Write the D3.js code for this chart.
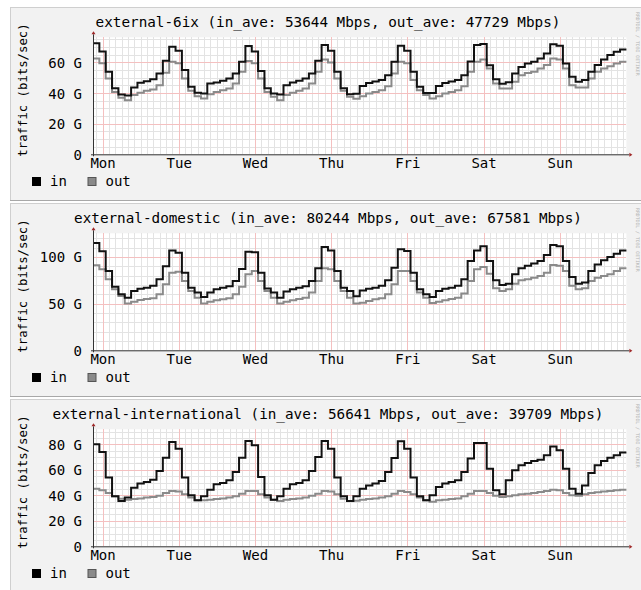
<!DOCTYPE html>
<html><head><meta charset="utf-8">
<script src="https://cdn.jsdelivr.net/npm/d3@7"></script>
<style>html,body{margin:0;padding:0;background:#fff}svg{display:block}</style>
</head><body>
<script>
// ---------- data ----------
const dayLabels = ["Mon","Tue","Wed","Thu","Fri","Sat","Sun"];
const titles = [
  "external-6ix (in_ave: 53644 Mbps, out_ave: 47729 Mbps)",
  "external-domestic (in_ave: 80244 Mbps, out_ave: 67581 Mbps)",
  "external-international (in_ave: 56641 Mbps, out_ave: 39709 Mbps)"
];
const seriesNames = ["in","out"];
const yAxisTitle = "traffic (bits/sec)";
const credit = "RRDTOOL / TOBI OETIKER";

// 2-hour averages (Gbps), 84 steps, starting Sunday 21:00
const sixIn = [72.4,67,53.8,43,39,38.3,43.6,46.6,47.7,49,52.7,61,
  70.2,67.5,55,44,40.1,39.7,46.2,46.8,47.9,49.5,52.7,60.4,
  70.6,67,54.4,43,39.7,39,45,46.8,47.9,49.5,52.7,61,
  71.2,67.5,53.8,43,39.2,39.5,44.5,46.5,47.5,48.5,51.5,60.4,
  70.8,67.5,53.8,44,40,40,44.5,46.5,47.5,48.5,51.5,60.5,
  71.3,72,58,49,46,47,52.7,57,59.2,60.4,62.5,65.8,
  71.7,70.8,59.2,50.5,47.3,48.4,53.8,58.2,61.9,64.7,66.8,68.4];
const sixOut = [62.5,59.3,49.5,40.7,36.8,35.3,38.6,40.1,41.4,42.3,45.1,53.2,
  60.4,59.3,49.5,41.4,37.9,36.4,39.2,40.7,41.8,42.9,46.2,53.8,
  60.8,59.3,49.5,40.7,37.5,35.3,38.6,40.1,41.4,42.9,46.2,53.8,
  61.9,59.9,49.5,41.4,37.5,36.2,37.9,39.7,40.7,41.8,44.4,52.7,
  60.4,59.3,48.4,41.8,38.6,36.4,37.9,39.7,40.7,41.8,44.4,53.8,
  60.4,61.9,56,46.2,42.9,42.9,47.3,51.6,53,53.8,55.9,58.2,
  62.5,61.9,55.9,45,43.5,43.5,49.5,53.8,55.9,57.5,59.2,60.4];
const domIn = [115,106,85,68,60,56.4,63.6,66,67,69,76,90,
  107,104.6,83,67,61.8,57,62,65.3,67,68.5,74.3,87,
  105.6,105,83,66.3,61.8,56.4,63,65.3,67,68.5,74.3,88,
  110.7,107,85,67,63.6,58,64,66,67,69,75,88.5,
  108.2,106.3,83,65.3,60,57,63.6,66,67,69,76,95.7,
  107,111.5,95.7,75,70,71.4,81.5,88,90.5,93,95.7,102,
  112.8,111.5,95.7,78.5,71.4,72.5,85,92,96.4,100,103.5,107];
const domOut = [91,86.7,76,65.3,58.2,50,52,54,55,55.7,60,70.7,
  83,84,74.3,63.6,56.4,50,52,53.5,54.6,55.7,60,68,
  81.5,85,74.3,63.6,56.4,50,52,53.5,55,56.4,61.8,74.3,
  87.8,86.7,74.3,63.6,56.4,50,51,52.9,54.6,55.7,60,70.7,
  85,85,74.3,61.8,56.4,50.7,52,53.5,55,56.4,60.7,74.3,
  86.7,89.2,82,66.5,63.6,65.3,71.4,75,76,77.8,79.6,83,
  91.4,90.5,85,69,65.3,66.5,74.3,77.8,79.6,81.5,85,87.8];
const intlIn = [80,74,53.9,39.2,35.5,38.2,45.9,49.2,50.5,52.3,59.1,69.5,
  81.8,76.6,53.9,40,36.1,39.2,44.4,48.6,49.7,51.8,58.3,69.5,
  82.6,79.2,54.4,40,36.6,39.2,45.2,48.6,49.7,51.8,59.1,70,
  82.6,76.6,53.9,39.2,35.5,39.2,45.2,47.8,49.2,51.3,58.3,69.3,
  82.4,76.6,53.9,39.2,36.1,40,46.5,49.2,50.5,51.8,58.3,68.8,
  81,81,60.9,43.9,40.8,51.8,59.6,63.5,65.4,66.9,68,71.4,
  78.4,75.3,60.9,45.2,41.3,47.8,57.5,63.5,66.9,69.5,71.4,73.5];
const intlOut = [45.2,43.9,41.8,39.2,37.4,36.6,37.1,37.6,38.2,38.7,39.7,41.8,
  43.4,42.9,40.8,38.2,36.1,36.1,36.6,37.1,37.6,38.2,39.2,41.3,
  43.4,43.4,40.8,38.2,36.6,35.5,36.6,37.1,37.6,38.2,39.7,41.3,
  43.4,42.9,40.8,37.4,35.5,35.8,36.6,37.1,37.6,38.2,39.2,41.3,
  43.4,42.6,40.8,38.2,36.1,35,36.1,36.6,37.1,37.6,39.2,41.3,
  43.4,43.4,41.8,39.7,38.7,39.2,40,40.8,41.3,41.8,42.6,43.4,
  44.4,43.9,41.8,40,39.7,40.8,41.8,42.4,42.9,43.4,43.9,44.4];

const yMaxes = [76.3, 125.3, 91.8];
const yTickValues = [[0,20,40,60],[0,50,100],[0,20,40,60,80]];
const yTickLabels = [["0","20 G","40 G","60 G"],["0","50 G","100 G"],["0","20 G","40 G","60 G","80 G"]];
const minorSteps = [5,10,5];
const majorSteps = [20,50,20];
const stepHours = 2;
const spanHours = 168;
const firstMidnight = 3; // Mon 00:00 is 3h after the start

const panels = [
  {title: titles[0], inV: sixIn, outV: sixOut},
  {title: titles[1], inV: domIn, outV: domOut},
  {title: titles[2], inV: intlIn, outV: intlOut}
];

// ---------- drawing ----------
const W = 641, H = 590;
const FONT = "'DejaVu Sans Mono', 'Liberation Mono', monospace";
const svg = d3.select("body").append("svg").attr("width", W).attr("height", H);

const PANEL_DY = 196;
const left = 93, right = 626.4;
const top0 = 37.3, bottom0 = 154.3;

const x = d3.scaleLinear().domain([0, spanHours]).range([left, right]);

panels.forEach((p, k) => {
  const g = svg.append("g").attr("transform", `translate(0,${PANEL_DY * k})`);
  // panel background with shading
  g.append("rect").attr("x", 10).attr("y", 7).attr("width", 640).attr("height", 194).attr("fill", "#f2f2f2");
  g.append("line").attr("x1", 10).attr("x2", 650).attr("y1", 7.5).attr("y2", 7.5).attr("stroke", "#cfcfcf");
  g.append("line").attr("x1", 10.5).attr("x2", 10.5).attr("y1", 7).attr("y2", 201).attr("stroke", "#cfcfcf");
  g.append("line").attr("x1", 10).attr("x2", 650).attr("y1", 200.5).attr("y2", 200.5).attr("stroke", "#a8a8a8");

  const y = d3.scaleLinear().domain([0, yMaxes[k]]).range([bottom0, top0]);

  // canvas
  g.append("rect").attr("x", left).attr("y", top0).attr("width", right - left).attr("height", bottom0 - top0).attr("fill", "#fff");

  const grid = g.append("g").attr("shape-rendering", "crispEdges");
  const minorColor = "#e3e3e3", majorColor = "#f4c0c0";
  // minor horizontal
  const minorY = d3.range(minorSteps[k], yMaxes[k], minorSteps[k]).filter(v => Math.abs(v / majorSteps[k] - Math.round(v / majorSteps[k])) > 1e-6);
  grid.selectAll(".mh").data(minorY).enter().append("line")
    .attr("x1", left).attr("x2", right).attr("y1", d => Math.round(y(d)) + 0.5).attr("y2", d => Math.round(y(d)) + 0.5)
    .attr("stroke", minorColor).attr("stroke-width", 1);
  // minor vertical (every 2h on even clock hours)
  const dayHours = d3.range(0, 7).map(d => firstMidnight + 24 * d);
  const minorX = d3.range(1, spanHours, stepHours).filter(h => !dayHours.includes(h));
  grid.selectAll(".mv").data(minorX).enter().append("line")
    .attr("x1", d => Math.round(x(d)) + 0.5).attr("x2", d => Math.round(x(d)) + 0.5)
    .attr("y1", top0).attr("y2", bottom0)
    .attr("stroke", minorColor).attr("stroke-width", 1);
  // major horizontal
  const majorY = d3.range(majorSteps[k], yMaxes[k], majorSteps[k]);
  grid.selectAll(".Mh").data(majorY).enter().append("line")
    .attr("x1", left).attr("x2", right).attr("y1", d => Math.round(y(d)) + 0.5).attr("y2", d => Math.round(y(d)) + 0.5)
    .attr("stroke", majorColor).attr("stroke-width", 1);
  // major vertical (days)
  grid.selectAll(".Mv").data(dayHours).enter().append("line")
    .attr("x1", d => Math.round(x(d)) + 0.5).attr("x2", d => Math.round(x(d)) + 0.5)
    .attr("y1", top0).attr("y2", bottom0)
    .attr("stroke", majorColor).attr("stroke-width", 1);

  // series lines
  const toPts = arr => arr.map((v, i) => [i * stepHours, v]).concat([[arr.length * stepHours, arr[arr.length - 1]]]);
  const line = d3.line().x(d => x(d[0])).y(d => y(d[1])).curve(d3.curveStepAfter);
  g.append("path").attr("d", line(toPts(p.outV))).attr("fill", "none").attr("stroke", "#8a8a8a").attr("stroke-width", 2);
  g.append("path").attr("d", line(toPts(p.inV))).attr("fill", "none").attr("stroke", "#111").attr("stroke-width", 2);

  // axes lines
  g.append("line").attr("x1", left - 2).attr("x2", right + 3).attr("y1", bottom0 + 0.5).attr("y2", bottom0 + 0.5)
    .attr("stroke", "#333").attr("stroke-width", 1);
  g.append("line").attr("x1", left + 0.5).attr("x2", left + 0.5).attr("y1", bottom0 + 2).attr("y2", top0 - 3)
    .attr("stroke", "#333").attr("stroke-width", 1);
  // arrows
  g.append("path").attr("d", `M${right + 3},${bottom0 - 1.5}L${right + 6},${bottom0 + 0.5}L${right + 3},${bottom0 + 2.5}Z`).attr("fill", "#a02828");
  g.append("path").attr("d", `M${left - 1.5},${top0 - 3}L${left + 0.5},${top0 - 6}L${left + 2.5},${top0 - 3}Z`).attr("fill", "#a02828");

  // x labels via axis
  const xAxis = d3.axisBottom(x).tickValues(dayHours).tickFormat((d, i) => dayLabels[i]).tickSize(0).tickPadding(0);
  const xa = g.append("g").attr("transform", `translate(0,${bottom0 + 3})`).call(xAxis);
  xa.select(".domain").remove();
  xa.selectAll("text").attr("font-family", FONT).attr("font-size", "14px").attr("fill", "#000").attr("dy", "0.78em");

  // y labels via axis
  const yAxis = d3.axisLeft(y).tickValues(yTickValues[k]).tickFormat((d, i) => yTickLabels[k][i]).tickSize(0).tickPadding(0);
  const ya = g.append("g").attr("transform", `translate(${left - 11},0)`).call(yAxis);
  ya.select(".domain").remove();
  ya.selectAll("text").attr("font-family", FONT).attr("font-size", "14px").attr("fill", "#000").attr("dy", "0.36em");

  // title
  g.append("text").attr("x", 328).attr("y", 26.5).attr("text-anchor", "middle")
    .attr("font-family", FONT).attr("font-size", "14.3px").attr("fill", "#000").text(p.title);

  // vertical axis title
  g.append("text").attr("transform", `translate(26.5,90) rotate(-90)`).attr("text-anchor", "middle")
    .attr("font-family", FONT).attr("font-size", "12.3px").attr("fill", "#000").text(yAxisTitle);

  // credit
  g.append("text").attr("transform", `translate(636,12) rotate(90)`).attr("text-anchor", "start")
    .attr("font-family", FONT).attr("font-size", "4.8px").attr("fill", "#b4b4b4").text(credit);

  // legend
  const legendColors = ["#000", "#8a8a8a"];
  const legendX = [32, 87.5];
  seriesNames.forEach((n, i) => {
    g.append("rect").attr("x", legendX[i] + 0.5).attr("y", 177.5).attr("width", 8).attr("height", 8)
      .attr("fill", legendColors[i]).attr("stroke", i === 0 ? "#000" : "#555").attr("stroke-width", 1);
    g.append("text").attr("x", legendX[i] + 18).attr("y", 186).attr("font-family", FONT).attr("font-size", "14px")
      .attr("fill", "#000").text(n);
  });
});
</script>
</body></html>
